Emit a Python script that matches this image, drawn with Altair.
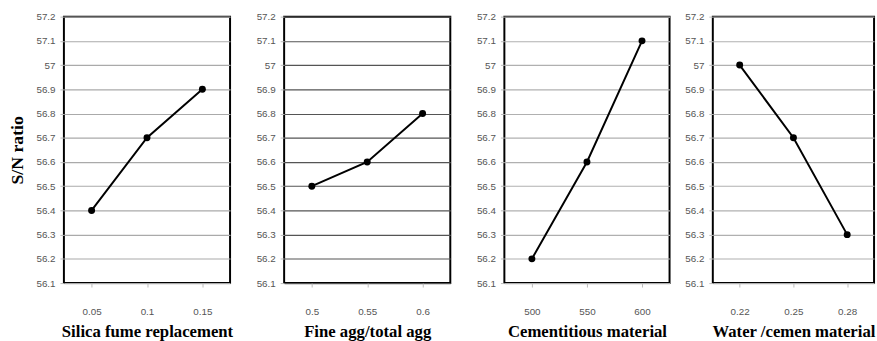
import altair as alt
import pandas as pd

# Factor levels and mean S/N ratios for each factor
silica_levels = ["0.05", "0.1", "0.15"]
silica_sn = [56.4, 56.7, 56.9]

fine_levels = ["0.5", "0.55", "0.6"]
fine_sn = [56.5, 56.6, 56.8]

cement_levels = ["500", "550", "600"]
cement_sn = [56.2, 56.6, 57.1]

water_levels = ["0.22", "0.25", "0.28"]
water_sn = [57.0, 56.7, 56.3]

y_ticks = [56.1, 56.2, 56.3, 56.4, 56.5, 56.6, 56.7, 56.8, 56.9, 57.0, 57.1, 57.2]

LABEL_FONT = "Liberation Sans"
TITLE_FONT = "Liberation Serif"


def panel(levels, values, xtitle, width, extent, grid_color, ytitle=None):
    df = pd.DataFrame({"level": levels, "sn": values})
    x = alt.X(
        "level:O",
        sort=levels,
        scale=alt.Scale(type="point", padding=0.5),
        axis=alt.Axis(
            title=xtitle,
            labelAngle=0,
            labelFont=LABEL_FONT,
            labelFontSize=10,
            labelColor="#555555",
            labelPadding=20,
            tickSize=4,
            tickColor="#bbbbbb",
            domain=False,
            titleFont=TITLE_FONT,
            titleFontSize=17,
            titleFontWeight="bold",
            titleColor="#000000",
            titlePadding=7,
        ),
    )
    yaxis_kwargs = dict(
        values=y_ticks,
        format=".3~g",
        labelFont=LABEL_FONT,
        labelFontSize=10,
        labelColor="#555555",
        labelPadding=5,
        tickSize=4,
        tickColor="#bbbbbb",
        domain=False,
        grid=True,
        gridColor=grid_color,
        gridWidth=1.2,
        minExtent=extent,
        maxExtent=extent,
    )
    if ytitle:
        yaxis_kwargs.update(
            title=ytitle,
            titleFont=TITLE_FONT,
            titleFontSize=18,
            titleFontWeight="bold",
            titleColor="#000000",
            titlePadding=10,
        )
    else:
        yaxis_kwargs.update(title=None)
    y = alt.Y(
        "sn:Q",
        scale=alt.Scale(domain=[56.1, 57.2], nice=False, zero=False),
        axis=alt.Axis(**yaxis_kwargs),
    )
    return (
        alt.Chart(df)
        .mark_line(
            color="#000000",
            strokeWidth=2,
            point=alt.OverlayMarkDef(color="#000000", filled=True, size=50, opacity=1),
        )
        .encode(x=x, y=y)
        .properties(width=width, height=271)
    )


p1 = panel(silica_levels, silica_sn, "Silica fume replacement", 169, 28, "#aaaaaa", ytitle="S/N ratio")
p2 = panel(fine_levels, fine_sn, "Fine agg/total agg", 169, 37.7, "#555555")
p3 = panel(cement_levels, cement_sn, "Cementitious material", 168, 40.6, "#b0b0b0")
p4 = panel(water_levels, water_sn, "Water /cemen material", 164, 29.3, "#b0b0b0")

chart = (
    alt.hconcat(p1, p2, p3, p4, spacing=12)
    .properties(padding={"left": 8, "top": 8, "right": 0, "bottom": 0}, background="#ffffff")
    .configure_view(stroke="#000000", strokeWidth=2)
)

chart.save("out.html", embed_options={"renderer": "svg", "actions": False})
